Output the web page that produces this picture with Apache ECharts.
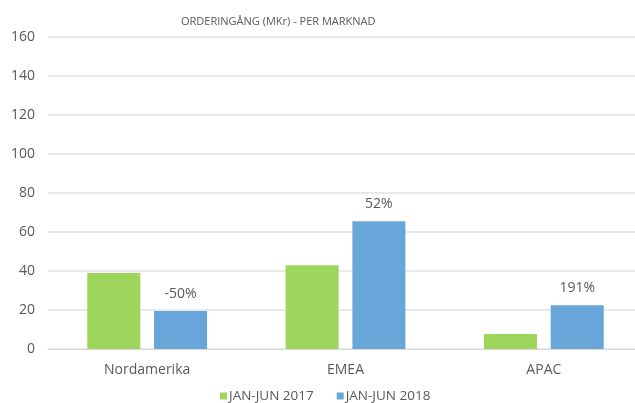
<!DOCTYPE html>
<html>
<head>
<meta charset="utf-8">
<script src="https://cdn.jsdelivr.net/npm/echarts@6/dist/echarts.min.js"></script>
<style>
  html, body { margin: 0; padding: 0; background: #fff; }
  #chart { width: 635px; height: 403px; }
</style>
</head>
<body>
<div id="chart"></div>
<script>
// kategorier och värden (MKr)
var categories = ['Nordamerika', 'EMEA', 'APAC']
var seriesNames = ['JAN-JUN 2017', 'JAN-JUN 2018']
var values2017 = [39, 43, 7.7]
var values2018 = [19.5, 65.5, 22.4]
var changeLabels = ['-50%', '52%', '191%'] // förändring mot 2017
var yTicks = { min: 0, max: 160, interval: 20 }

var textColor = '#595959'
var fontFamily = '"Open Sans", "Liberation Sans", sans-serif'

var chart = echarts.init(document.getElementById('chart'))
chart.setOption({
  animation: false,
  color: ['#9ed55c', '#68a5d8'],
  textStyle: { fontFamily: fontFamily },
  title: {
    text: 'ORDERINGÅNG (MKr) - PER MARKNAD',
    left: 176,
    top: 11,
    textStyle: { fontSize: 11, fontWeight: 'normal', color: textColor, fontFamily: fontFamily }
  },
  legend: {
    top: 389,
    left: 220,
    padding: 0,
    itemWidth: 7,
    itemHeight: 7,
    itemGap: 23,
    icon: 'rect',
    textStyle: { fontSize: 13.5, color: textColor, padding: [0, 0, 0, -3] },
    data: seriesNames
  },
  grid: {
    left: 48,
    top: 37,
    width: 595,
    height: 312,
    outerBoundsMode: 'none'
  },
  xAxis: {
    type: 'category',
    data: categories,
    axisTick: { show: false },
    axisLine: { lineStyle: { color: '#d9d9d9' } },
    axisLabel: { fontSize: 14, color: textColor, margin: 14 }
  },
  yAxis: {
    type: 'value',
    min: yTicks.min,
    max: yTicks.max,
    interval: yTicks.interval,
    axisLine: { show: false },
    axisTick: { show: false },
    axisLabel: { fontSize: 14, color: textColor, margin: 13 },
    splitLine: { lineStyle: { color: '#e2e2e2', width: 1.5 } }
  },
  series: [
    {
      name: seriesNames[0],
      type: 'bar',
      data: values2017,
      barWidth: 53,
      barGap: '26%'
    },
    {
      name: seriesNames[1],
      type: 'bar',
      data: values2018,
      barWidth: 53,
      label: {
        show: true,
        position: 'top',
        distance: 10,
        fontSize: 14,
        color: textColor,
        formatter: function(p) { return changeLabels[p.dataIndex] }
      }
    }
  ]
})
</script>
</body>
</html>
